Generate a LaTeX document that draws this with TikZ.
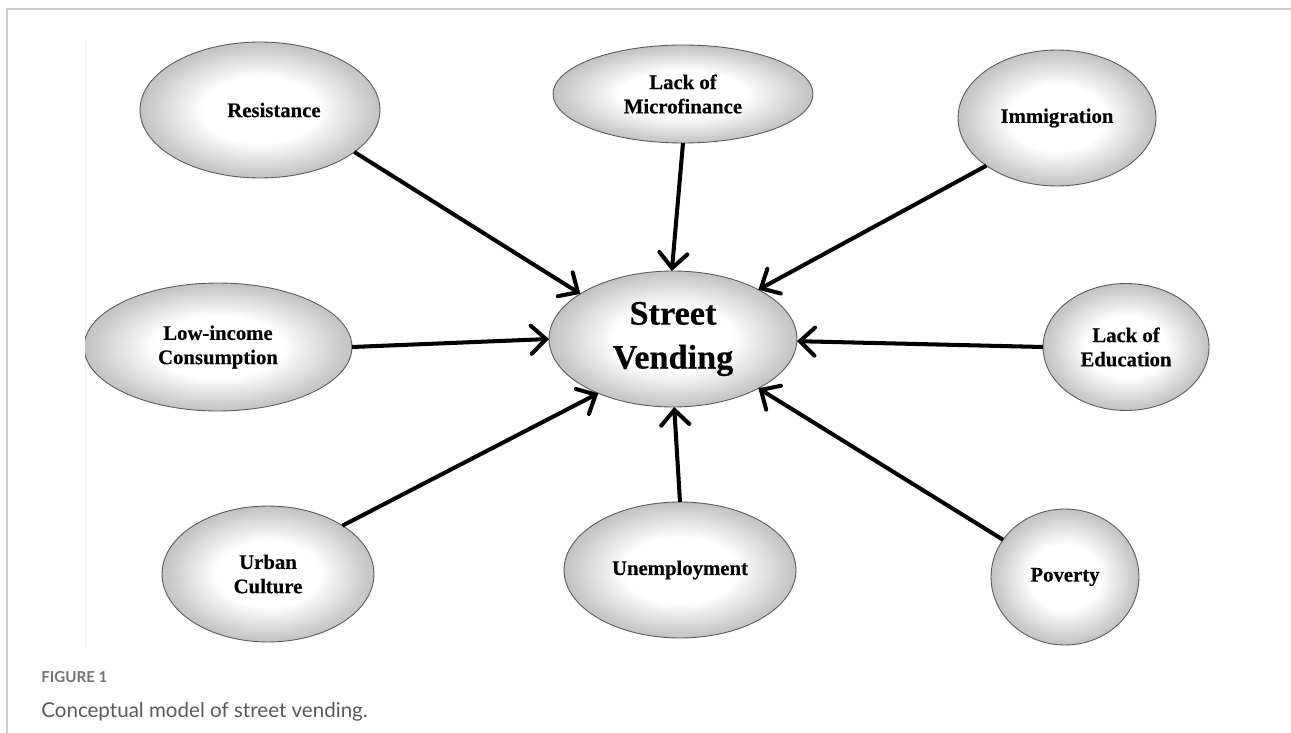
\documentclass[tikz,border=0pt]{standalone}
\usepackage{fontspec}
\setmainfont{Liberation Serif}
\newfontfamily\nodefont[FakeBold=0.4]{Liberation Serif Bold}
\newfontfamily\capfont{Lato}
\usetikzlibrary{shapes.geometric,arrows.meta}
\definecolor{edgegray}{gray}{0.76}
\definecolor{rimgray}{gray}{0.35}
\definecolor{framegray}{gray}{0.80}
\definecolor{capgray}{gray}{0.35}
\definecolor{figgray}{gray}{0.45}
\pgfdeclareradialshading{ballgray}{\pgfpoint{0bp}{0bp}}{color(0bp)=(white); color(12bp)=(white); color(25bp)=(edgegray); color(50bp)=(edgegray)}
\tikzset{
  factor/.style={ellipse, shade, shading=ballgray, draw=rimgray, line width=0.5pt, inner sep=0pt, outer sep=0pt, align=center, font=\nodefont\fontsize{11.8}{13.8}\selectfont},
  link/.style={line width=2.3pt, -{Straight Barb[length=8.5pt,width=16pt,line cap=round]}},
}
\begin{document}
\begin{tikzpicture}[x=0.02cm,y=-0.02cm]
\useasboundingbox (0,0) rectangle (1291,733);
% frame
\draw[framegray, line width=1pt] (7,733) -- (7,9) -- (1291,9);
\draw[gray!12, line width=0.5pt] (85,42) -- (85,647);
% nodes
\node[factor, minimum width=4.8cm, minimum height=2.72cm] (res) at (260,110) {\hspace*{0.56cm}Resistance};
\node[factor, minimum width=5.2cm, minimum height=1.96cm] (mic) at (683,94) {Lack of\\Microfinance};
\node[factor, minimum width=3.96cm, minimum height=2.72cm] (imm) at (1057,118) {Immigration};
\node[factor, minimum width=4.96cm, minimum height=2.72cm, font=\nodefont\fontsize{19.5}{25}\selectfont] (sv) at (673,339) {Street\\Vending};
\begin{scope}
\clip (85,0) rectangle (1291,733);
\node[factor, minimum width=5.36cm, minimum height=2.56cm] (low) at (218,347) {Low-income\\Consumption};
\end{scope}
\node[factor, minimum width=3.32cm, minimum height=2.54cm] (edu) at (1126,347) {Lack of\\Education};
\node[factor, minimum width=4.24cm, minimum height=2.72cm] (urb) at (268,574) {Urban\\Culture};
\node[factor, minimum width=4.64cm, minimum height=2.72cm] (une) at (680,570) {Unemployment};
\node[factor, minimum width=2.96cm, minimum height=2.72cm] (pov) at (1065,577) {Poverty};
% connectors
\draw[link] (res.-24) -- (sv.154);
\draw[link] (mic.-90) -- (sv.91);
\draw[link] (imm.-146) -- (sv.30);
\draw[link] (low.0) -- (sv.180);
\draw[link] (edu.180) -- (sv.-1);
\draw[link] (urb.33) -- (sv.-144);
\draw[link] (une.90) -- (sv.-89);
\draw[link] (pov.149) -- (sv.-30);
% caption
\node[anchor=base west, inner sep=0pt, text=figgray, font=\capfont\bfseries\fontsize{8.6}{10}\selectfont] (fig) at (41,682) {FIGURE 1};
\node[anchor=base west, inner sep=0pt, text=capgray, font=\capfont\fontsize{11.7}{14}\selectfont] (cap) at (41,717) {Conceptual model of street vending.};
\end{tikzpicture}
\end{document}
